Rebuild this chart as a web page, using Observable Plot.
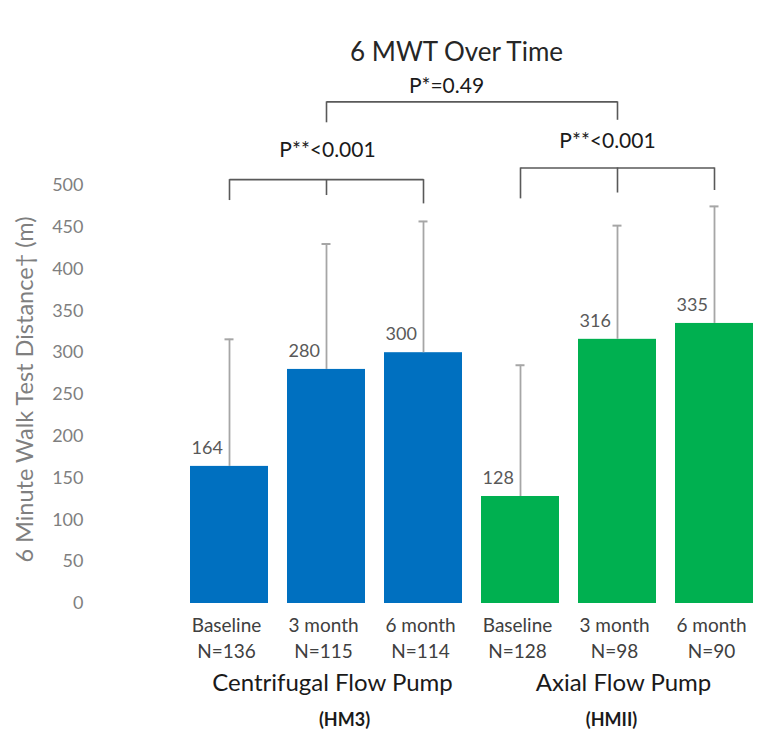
<!DOCTYPE html>
<html>
<head>
<meta charset="utf-8">
<script src="https://cdn.jsdelivr.net/npm/d3@7"></script>
<script src="https://cdn.jsdelivr.net/npm/@observablehq/plot@0.6"></script>
<style>
  html, body { margin: 0; padding: 0; background: #fff; }
  #chart svg { display: block; font-family: Lato, "Open Sans", sans-serif; }
</style>
</head>
<body>
<div id="chart"></div>
<script>
// ---- data ----
const ids = ["HM3-Baseline", "HM3-3m", "HM3-6m", "HMII-Baseline", "HMII-3m", "HMII-6m"];
const groups = ["HM3", "HM3", "HM3", "HMII", "HMII", "HMII"];
const timepoints = ["Baseline", "3 month", "6 month", "Baseline", "3 month", "6 month"];
const nLabels = ["N=136", "N=115", "N=114", "N=128", "N=98", "N=90"];
const means = [164, 280, 300, 128, 316, 335];
const sds = [152, 150, 157, 157, 136, 140];
const yTicks = [0, 50, 100, 150, 200, 250, 300, 350, 400, 450, 500];
const groupNames = ["Centrifugal Flow Pump", "Axial Flow Pump"];
const groupCodes = ["(HM3)", "(HMII)"];
const groupColors = ["#0070C0", "#00B050"];

const rows = ids.map((id, i) => ({
  id, group: groups[i], time: timepoints[i], n: nLabels[i],
  mean: means[i], sd: sds[i], upper: means[i] + sds[i]
}));

// significance brackets (levels in y units)
const brackets = [
  {from: ids[1], to: ids[4], mid: null, y: 600, legs: [575, 578], text: "P*=0.49"},
  {from: ids[0], to: ids[2], mid: ids[1], y: 507, legs: [482, 488, 478], text: "P**<0.001"},
  {from: ids[3], to: ids[5], mid: ids[4], y: 521, legs: [484, 491, 494], text: "P**<0.001"}
];
const hSegs = brackets.map(b => ({x1: b.from, x2: b.to, y: b.y}));
const vSegs = brackets.flatMap(b => {
  const xs = b.mid ? [b.from, b.mid, b.to] : [b.from, b.to];
  return xs.map((x, i) => ({x, y1: b.legs[i], y2: b.y}));
});

const chart = Plot.plot({
  width: 759,
  height: 734,
  marginLeft: 187,
  marginRight: 4,
  marginTop: 185,
  marginBottom: 131,
  x: {type: "band", domain: ids, paddingInner: 0.2, paddingOuter: 0, axis: null},
  y: {domain: [0, 500], axis: null},
  color: {domain: ["HM3", "HMII"], range: groupColors},
  marks: [
    // y tick labels
    Plot.text(yTicks, {y: d => d, frameAnchor: "left", textAnchor: "end", dx: -104,
      text: d => String(d), fontSize: 18, fill: "#7f7f7f"}),
    // y axis title
    Plot.text(["6 Minute Walk Test Distance\u2020 (m)"], {frameAnchor: "left", textAnchor: "middle",
      lineAnchor: "middle", rotate: -90, dx: -162, dy: -5, fontSize: 23.5, fill: "#7f7f7f"}),
    // bars
    Plot.barY(rows, {x: "id", y: "mean", fill: "group"}),
    // error bars (upper only)
    Plot.ruleX(rows, {x: "id", y1: "mean", y2: "upper", stroke: "#a6a6a6", strokeWidth: 1.8}),
    Plot.tickY(rows, {x: "id", y: "upper", stroke: "#a6a6a6", strokeWidth: 2, insetLeft: 34.5, insetRight: 34.5}),
    // value labels
    Plot.text(rows, {x: "id", y: "mean", text: d => String(d.mean), textAnchor: "start",
      dx: -38, dy: -18, fontSize: 18, fill: "#595959"}),
    // category labels
    Plot.text(rows, {x: "id", frameAnchor: "bottom", lineAnchor: "middle", text: "time", dx: -3, dy: 22, fontSize: 19, fill: "#404040"}),
    Plot.text(rows, {x: "id", frameAnchor: "bottom", lineAnchor: "middle", text: "n", dx: -3, dy: 48, fontSize: 19, fill: "#404040"}),
    // group labels
    Plot.text([ids[1], ids[4]], {x: d => d, frameAnchor: "bottom", lineAnchor: "middle", text: (d, i) => groupNames[i],
      dx: 6, dy: 80, fontSize: 24, fill: "#1a1a1a"}),
    Plot.text([ids[1]], {x: d => d, frameAnchor: "bottom", lineAnchor: "middle", text: () => groupCodes[0],
      dx: 18, dy: 117, fontSize: 18, fontWeight: "bold", fill: "#1a1a1a"}),
    Plot.text([ids[4]], {x: d => d, frameAnchor: "bottom", lineAnchor: "middle", text: () => groupCodes[1],
      dx: -6, dy: 117, fontSize: 18, fontWeight: "bold", fill: "#1a1a1a"}),
    // brackets
    Plot.link(hSegs, {x1: "x1", x2: "x2", y1: "y", y2: "y", stroke: "#595959", strokeWidth: 1.6}),
    Plot.ruleX(vSegs, {x: "x", y1: "y1", y2: "y2", stroke: "#595959", strokeWidth: 1.6}),
    // p-values
    Plot.text([brackets[0]], {x: d => d.from, y: "y", text: "text", dx: 120, dy: -16, fontSize: 21, fill: "#1a1a1a"}),
    Plot.text([brackets[1]], {x: d => d.mid, y: "y", text: "text", dx: 1, dy: -29, fontSize: 21, fill: "#1a1a1a"}),
    Plot.text([brackets[2]], {x: d => d.mid, y: "y", text: "text", dx: -10, dy: -27, fontSize: 21, fill: "#1a1a1a"}),
    // title
    Plot.text(["6 MWT Over Time"], {frameAnchor: "top", lineAnchor: "middle", dx: -15, dy: -133, fontSize: 26, fill: "#262626"})
  ]
});

document.getElementById("chart").appendChild(chart);
</script>
</body>
</html>
